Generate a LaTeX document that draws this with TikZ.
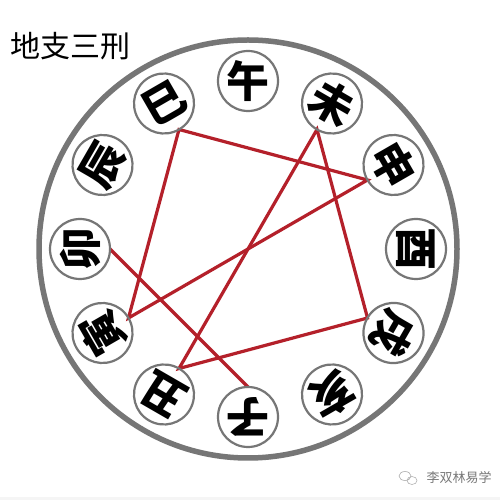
\documentclass[tikz,border=0pt]{standalone}
\usepackage{fontspec}
\newfontfamily\cjk{Noto Sans CJK SC}
\usetikzlibrary{calc}
\definecolor{ringgray}{RGB}{118,118,118}
\definecolor{linered}{RGB}{180,32,42}
\definecolor{wmgray}{RGB}{120,120,120}
\begin{document}
\begin{tikzpicture}[x=1pt,y=1pt,
  branch/.style={circle,draw=ringgray,line width=2.2pt,minimum size=60pt,inner sep=0pt,
    font=\cjk\bfseries\fontsize{43}{43}\selectfont},
  xing/.style={draw=linered,line width=3.2pt,line join=miter},
  titletext/.style={anchor=west,font=\cjk\fontsize{30}{30}\selectfont},
  wmtext/.style={anchor=west,text=wmgray,font=\cjk\fontsize{13}{13}\selectfont}]
\useasboundingbox (0,0) rectangle (500,500);
\fill[white] (0,0) rectangle (500,500);
\fill[gray!8] (0,0) rectangle (500,3);
\coordinate (O) at (248,251);
\draw[ringgray,line width=5.5pt] (O) circle (209pt);
\node[titletext] (title) at (7,454) {地支三刑};
\foreach \n/\a in {wu/90, wei/60, shen/30, you/0, xu/-30, hai/-60, zi/-90, chou/-120, yin/-150, mao/180, chen/150, si/120} {
  \coordinate (v\n) at ($(O)+(\a:138pt)$);
}
\draw[xing] (vsi) -- (vshen) -- (vyin) -- cycle;
\draw[xing] (vwei) -- (vchou) -- (vxu) -- cycle;
\draw[xing] (vmao) -- (vzi);
\foreach \n/\c/\a in {wu/午/90, wei/未/60, shen/申/30, you/酉/0, xu/戌/-30, hai/亥/-60, zi/子/-90, chou/丑/-120, yin/寅/-150, mao/卯/180, chen/辰/150, si/巳/120} {
  \node[branch,rotate=\a-90] (\n) at ($(O)+(\a:168pt)$) {\c};
}
\node[wmtext] (wm) at (423,22) {李双林易学};
\draw[wmgray!60,line width=0.6pt] (405,24) ellipse (6pt and 4.5pt);
\draw[wmgray!60,line width=0.6pt] (412,19.5) ellipse (5pt and 4pt);
\end{tikzpicture}
\end{document}
